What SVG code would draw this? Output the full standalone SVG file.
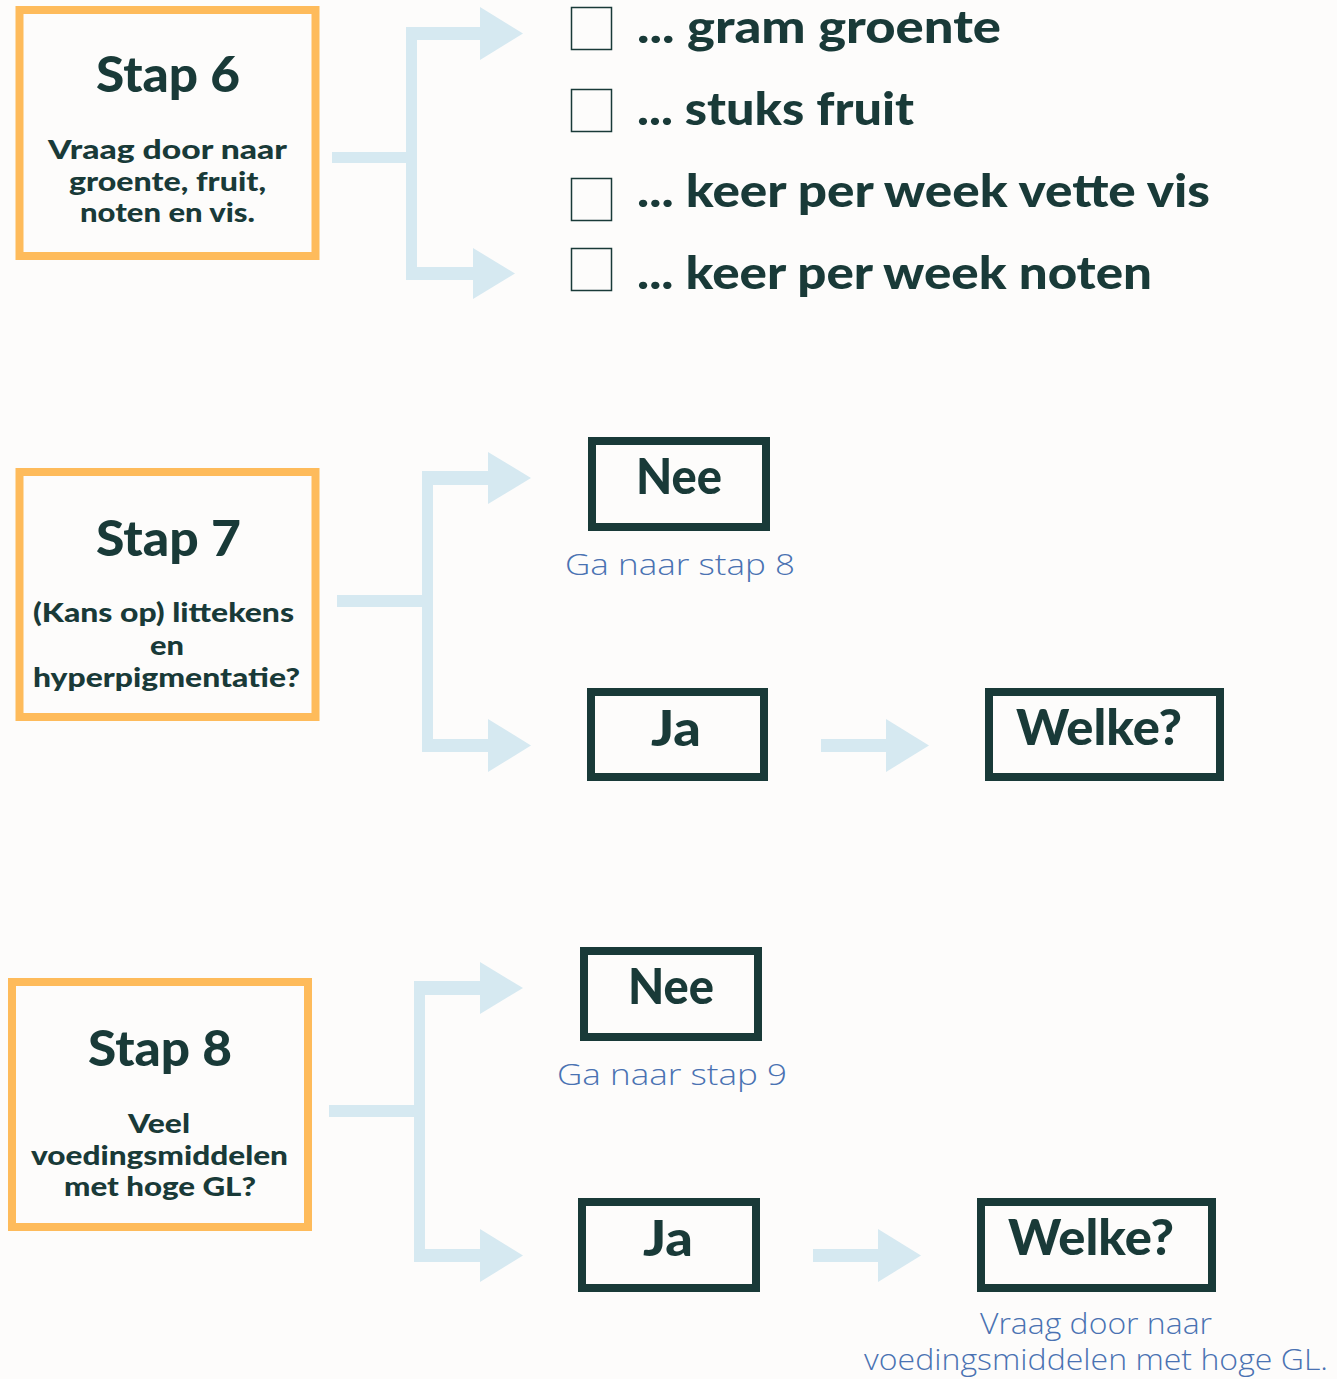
<svg xmlns="http://www.w3.org/2000/svg" width="1337" height="1379" viewBox="0 0 1337 1379">
<style>
.step{fill:none;stroke:#FEBB5B;stroke-width:8}
.box{fill:none;stroke:#193A38;stroke-width:8}
.chk{fill:none;stroke:#193A38;stroke-width:1.5}
.t{font-family:"Lato","Liberation Sans",sans-serif;font-weight:900;fill:#193A38}
.title{font-size:50px}
.sub{font-size:27px}
.item{font-size:46px}
.ans{font-size:50px}
.note{font-family:"Open Sans","Liberation Sans",sans-serif;font-weight:300;font-size:30px;fill:#4A72B2}
.c{fill:#D6E9F1}
</style>
<rect width="1337" height="1379" fill="#FDFCFB"/>

<g id="stap6">
<rect class="step" x="19.5" y="10" width="296" height="246"/>
<text class="t title" x="96" y="92" textLength="144" lengthAdjust="spacingAndGlyphs">Stap 6</text>
<text class="t sub" x="48" y="159" textLength="239" lengthAdjust="spacingAndGlyphs">Vraag door naar</text>
<text class="t sub" x="69" y="191" textLength="197" lengthAdjust="spacingAndGlyphs">groente, fruit,</text>
<text class="t sub" x="80" y="222" textLength="175" lengthAdjust="spacingAndGlyphs">noten en vis.</text>
</g>

<g id="checklist">
<rect class="chk" x="571.5" y="7.5" width="40" height="42"/>
<rect class="chk" x="571.5" y="89.5" width="40" height="42"/>
<rect class="chk" x="571.5" y="178.5" width="40" height="42"/>
<rect class="chk" x="571.5" y="248.5" width="40" height="42"/>
<text class="t item" x="637" y="43" textLength="364" lengthAdjust="spacingAndGlyphs">... gram groente</text>
<text class="t item" x="637" y="125" textLength="277" lengthAdjust="spacingAndGlyphs">... stuks fruit</text>
<text class="t item" x="637" y="207" textLength="573" lengthAdjust="spacingAndGlyphs">... keer per week vette vis</text>
<text class="t item" x="637" y="289" textLength="515" lengthAdjust="spacingAndGlyphs">... keer per week noten</text>
</g>

<g id="stap7">
<rect class="step" x="19.5" y="472" width="296" height="245"/>
<text class="t title" x="96" y="556" textLength="145" lengthAdjust="spacingAndGlyphs">Stap 7</text>
<text class="t sub" x="33" y="622" textLength="261" lengthAdjust="spacingAndGlyphs">(Kans op) littekens</text>
<text class="t sub" x="150" y="655" textLength="34" lengthAdjust="spacingAndGlyphs">en</text>
<text class="t sub" x="33" y="687" textLength="267" lengthAdjust="spacingAndGlyphs">hyperpigmentatie?</text>
</g>

<g id="nee7">
<rect class="box" x="592" y="441" width="174" height="86"/>
<text class="t ans" x="636" y="494" textLength="86" lengthAdjust="spacingAndGlyphs">Nee</text>
<text class="note" x="565" y="575" textLength="230" lengthAdjust="spacingAndGlyphs">Ga naar stap 8</text>
</g>
<g id="ja7">
<rect class="box" x="591" y="692" width="173" height="85"/>
<text class="t ans" x="651" y="746" textLength="50" lengthAdjust="spacingAndGlyphs">Ja</text>
</g>
<g id="welke7">
<rect class="box" x="989" y="692" width="231" height="85"/>
<text class="t ans" x="1016" y="745" textLength="166" lengthAdjust="spacingAndGlyphs">Welke?</text>
</g>

<g id="stap8">
<rect class="step" x="12" y="982" width="296" height="245"/>
<text class="t title" x="88" y="1066" textLength="144" lengthAdjust="spacingAndGlyphs">Stap 8</text>
<text class="t sub" x="128" y="1133" textLength="62" lengthAdjust="spacingAndGlyphs">Veel</text>
<text class="t sub" x="31" y="1165" textLength="257" lengthAdjust="spacingAndGlyphs">voedingsmiddelen</text>
<text class="t sub" x="64" y="1196" textLength="192" lengthAdjust="spacingAndGlyphs">met hoge GL?</text>
</g>

<g id="nee8">
<rect class="box" x="584" y="951" width="174" height="86"/>
<text class="t ans" x="628" y="1004" textLength="86" lengthAdjust="spacingAndGlyphs">Nee</text>
<text class="note" x="557" y="1085" textLength="230" lengthAdjust="spacingAndGlyphs">Ga naar stap 9</text>
</g>
<g id="ja8">
<rect class="box" x="582" y="1202" width="174" height="86"/>
<text class="t ans" x="643" y="1256" textLength="50" lengthAdjust="spacingAndGlyphs">Ja</text>
</g>
<g id="welke8">
<rect class="box" x="981" y="1202" width="231" height="86"/>
<text class="t ans" x="1008" y="1255" textLength="166" lengthAdjust="spacingAndGlyphs">Welke?</text>
<text class="note" x="1096" y="1334" text-anchor="middle" textLength="232" lengthAdjust="spacingAndGlyphs">Vraag door naar</text>
<text class="note" x="1096" y="1370" text-anchor="middle" textLength="464" lengthAdjust="spacingAndGlyphs">voedingsmiddelen met hoge GL.</text>
</g>

<g id="connectors">
<rect class="c" x="332" y="152" width="80" height="11"/>
<rect class="c" x="406" y="27" width="11" height="253"/>
<rect class="c" x="406" y="27" width="76" height="13"/>
<polygon class="c" points="480,7 523,33.5 480,60"/>
<rect class="c" x="406" y="267" width="69" height="13"/>
<polygon class="c" points="473,248 515,273.5 473,299"/>

<rect class="c" x="337" y="595" width="90" height="12"/>
<rect class="c" x="422" y="471" width="11" height="281"/>
<rect class="c" x="422" y="471" width="68" height="14"/>
<polygon class="c" points="488,452 531,478 488,504"/>
<rect class="c" x="422" y="739" width="68" height="13"/>
<polygon class="c" points="488,719 531,745.5 488,772"/>
<rect class="c" x="821" y="739" width="67" height="13"/>
<polygon class="c" points="886,719 929,745.5 886,772"/>

<rect class="c" x="329" y="1105" width="90" height="12"/>
<rect class="c" x="414" y="981" width="11" height="281"/>
<rect class="c" x="414" y="981" width="68" height="14"/>
<polygon class="c" points="480,962 523,988 480,1014"/>
<rect class="c" x="414" y="1249" width="68" height="13"/>
<polygon class="c" points="480,1229 523,1255.5 480,1282"/>
<rect class="c" x="813" y="1249" width="67" height="13"/>
<polygon class="c" points="878,1229 921,1255.5 878,1282"/>
</g>
</svg>
